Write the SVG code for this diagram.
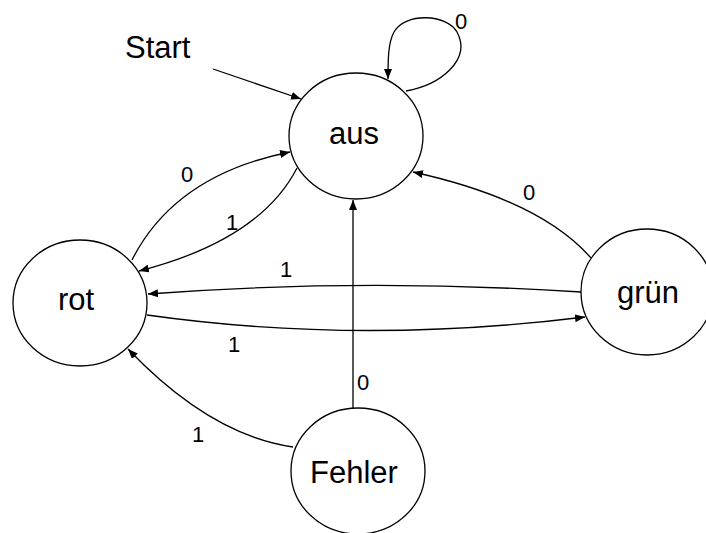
<svg xmlns="http://www.w3.org/2000/svg" width="706" height="533" viewBox="0 0 706 533">
<style>
.node ellipse{fill:#fff;stroke:#000;stroke-width:1.3}
.node text{font-family:"Liberation Sans",Arial,sans-serif;font-size:31px;fill:#000;text-anchor:middle}
.edges path{fill:none;stroke:#000;stroke-width:1.3;marker-end:url(#ah)}
.lbl{font-family:"Liberation Sans",Arial,sans-serif;font-size:22px;fill:#000}
</style>
<defs>
<marker id="ah" markerWidth="10" markerHeight="8" refX="10" refY="4" orient="auto" markerUnits="userSpaceOnUse">
<path d="M0,0 L10,4 L0,8 Z" fill="#000"/>
</marker>
</defs>
<rect width="706" height="533" fill="#fff"/>
<g class="edges" id="edges">
<path d="M213,69 L301,99"/>
<path d="M406,91 C440,85 472,60 457,32 C447,14 405,12 394,32 C388,43 388,60 388,79"/>
<path d="M132,260 Q175,175 290,152"/>
<path d="M297,168 Q260,240 139,271"/>
<path d="M581,292 Q360,278 148,294"/>
<path d="M147,315 Q360,345 585,317"/>
<path d="M353,408 L353,200"/>
<path d="M293,447 Q210,435 128,349"/>
<path d="M591,258 Q540,200 413,172"/>
</g>
<g id="labels">
<text class="lbl" x="125" y="58" style="font-size:31px">Start</text>
<text class="lbl" x="455" y="29">0</text>
<text class="lbl" x="181" y="182">0</text>
<text class="lbl" x="226" y="230">1</text>
<text class="lbl" x="280" y="277">1</text>
<text class="lbl" x="228" y="352">1</text>
<text class="lbl" x="357" y="390">0</text>
<text class="lbl" x="192" y="442">1</text>
<text class="lbl" x="523" y="200">0</text>
</g>
<g class="node" id="aus"><ellipse cx="356" cy="136" rx="67" ry="63"/><text x="354" y="144">aus</text></g>
<g class="node" id="rot"><ellipse cx="80" cy="303" rx="67" ry="63"/><text x="76" y="310">rot</text></g>
<g class="node" id="gruen"><ellipse cx="647" cy="292" rx="66" ry="63"/><text x="648" y="303">grün</text></g>
<g class="node" id="fehler"><ellipse cx="358" cy="471" rx="67" ry="63"/><text x="354" y="483">Fehler</text></g>
</svg>
